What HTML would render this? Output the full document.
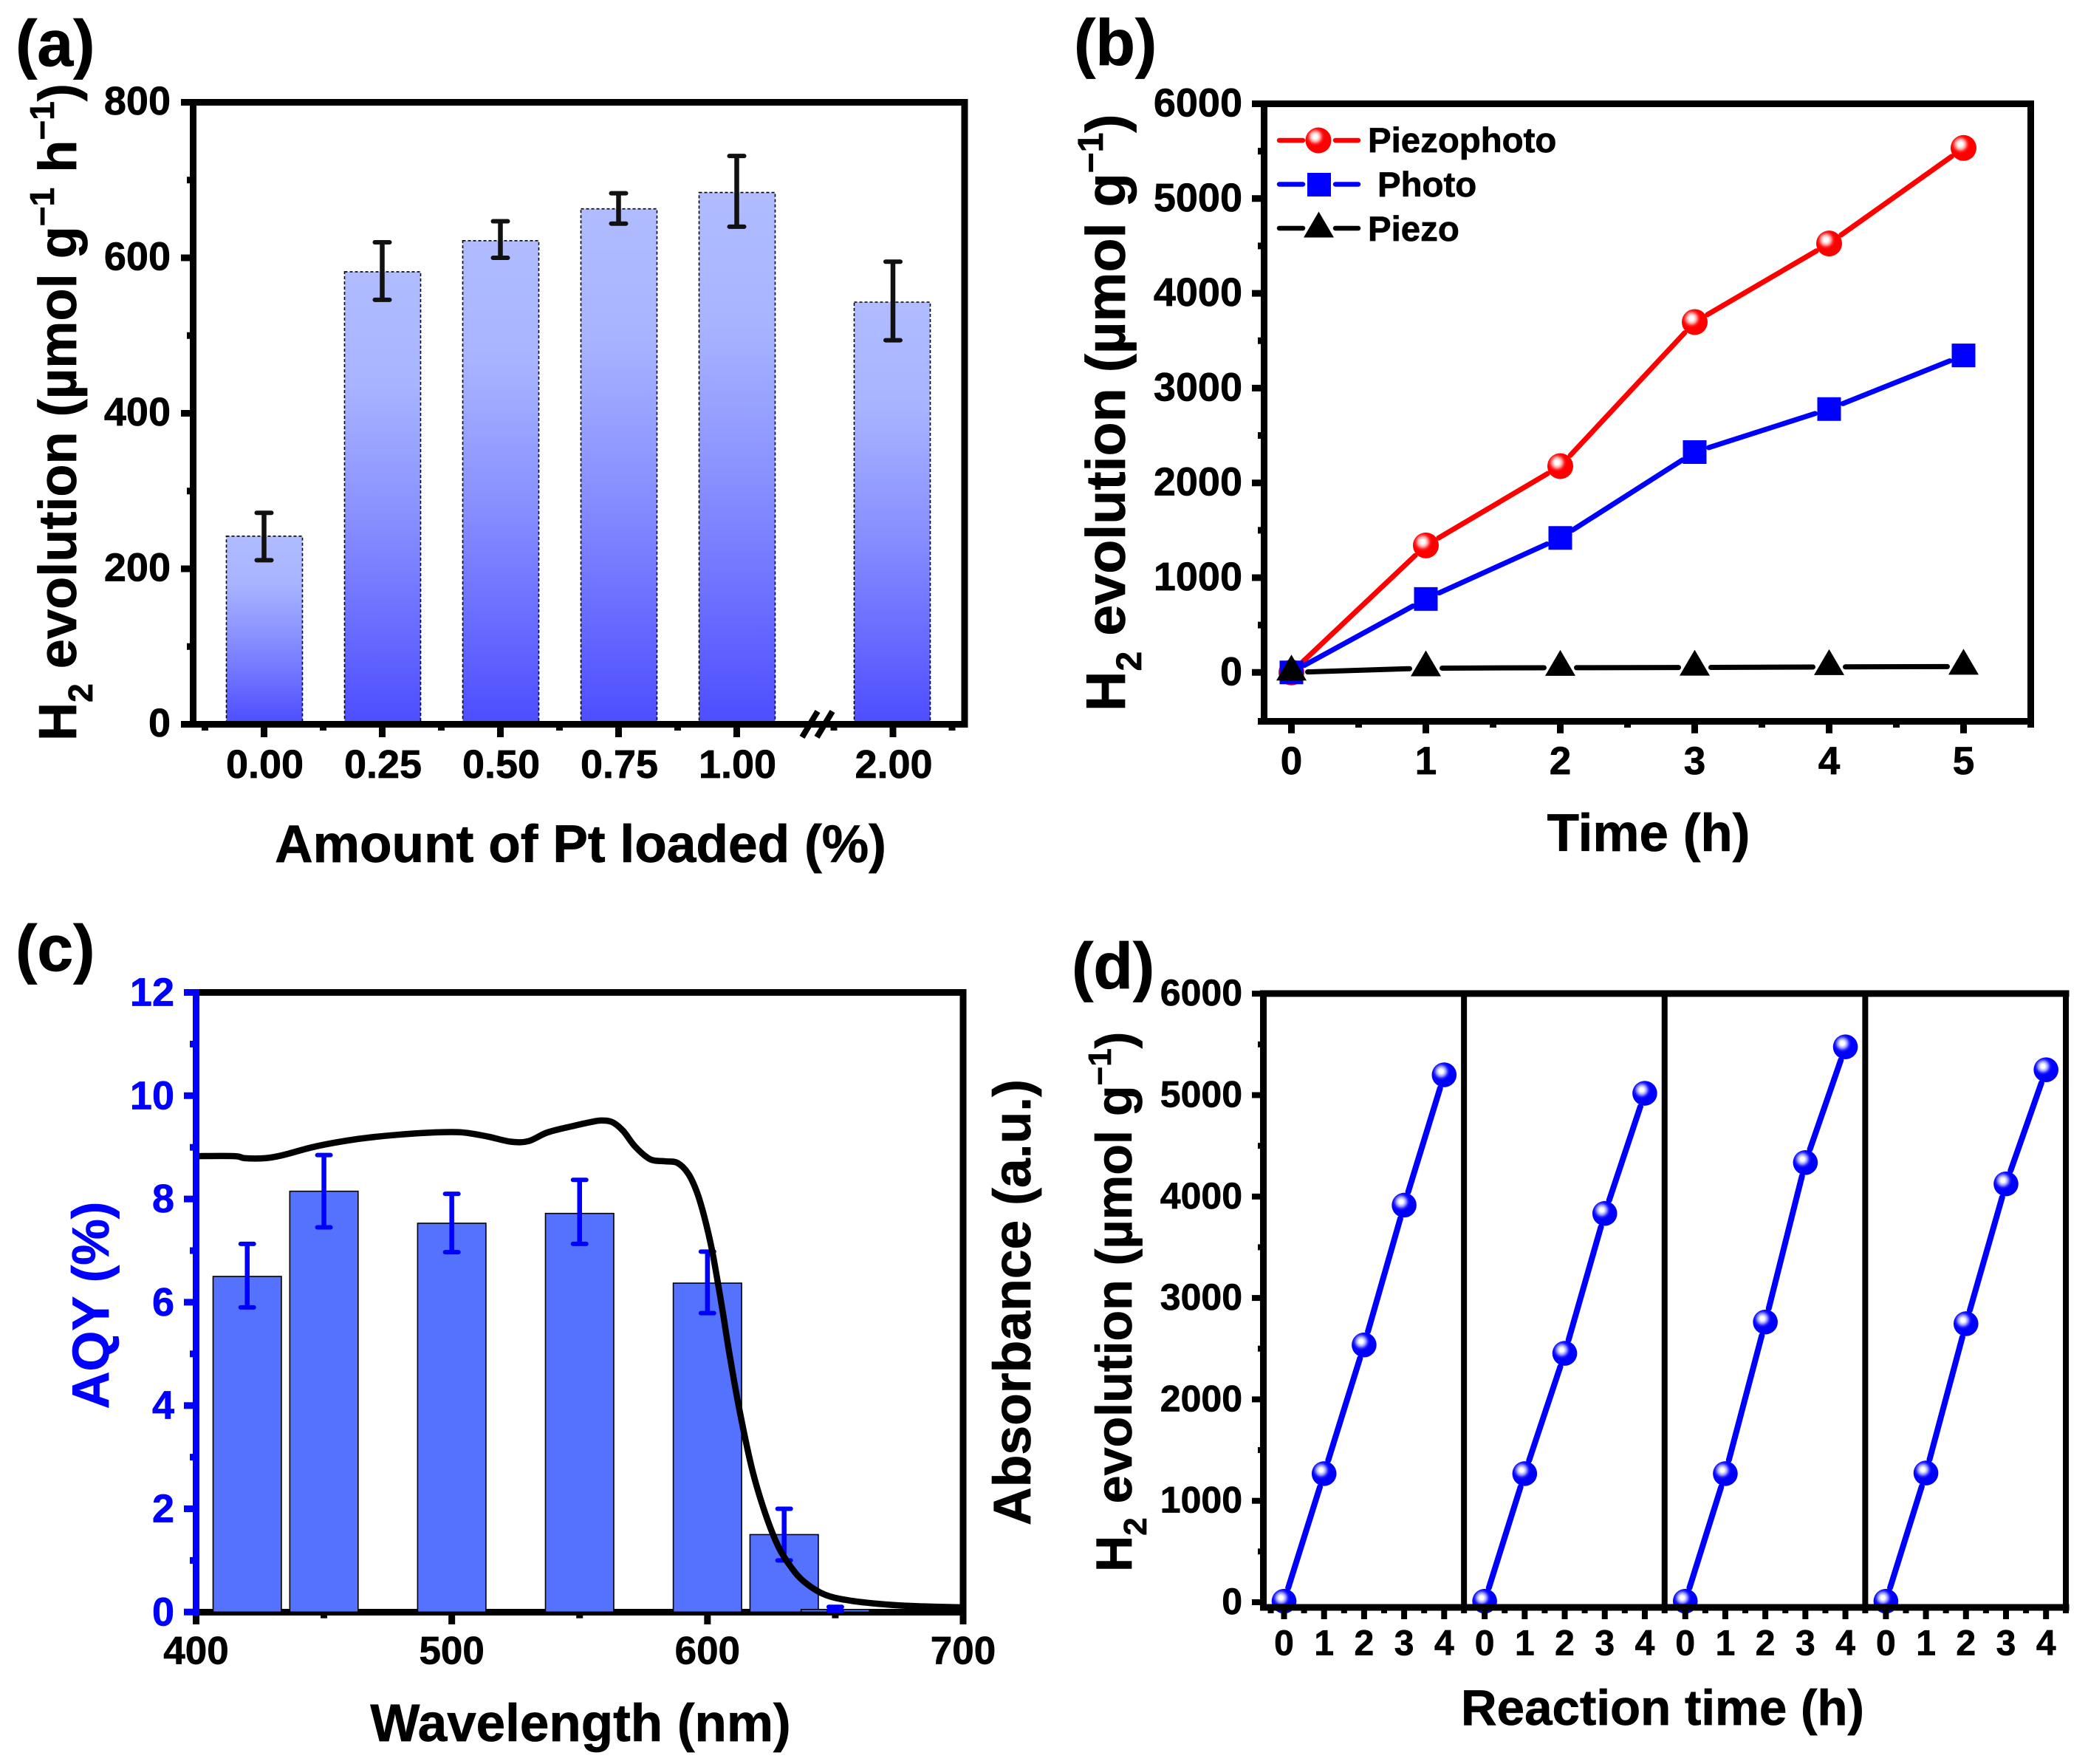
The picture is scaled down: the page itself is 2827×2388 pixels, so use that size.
<!DOCTYPE html>
<html lang="en">
<head>
<meta charset="utf-8">
<title>Hydrogen evolution figure</title>
<style>
html,body{margin:0;padding:0;background:#fff;}
svg{display:block;}
text{font-family:"Liberation Sans",Arial,sans-serif;font-weight:bold;fill:#000;stroke:#000;stroke-width:0.7px;}
</style>
</head>
<body>
<svg id="figure" xmlns="http://www.w3.org/2000/svg" width="2827" height="2388" viewBox="0 0 2827 2388">
<defs>
  <linearGradient id="barGrad" x1="0" y1="0" x2="0" y2="1">
    <stop offset="0" stop-color="#b0bcff"/>
    <stop offset="0.25" stop-color="#a8b4ff"/>
    <stop offset="0.55" stop-color="#878fff"/>
    <stop offset="1" stop-color="#4d4dff"/>
  </linearGradient>
  <radialGradient id="redBall" cx="0.38" cy="0.36" r="0.36">
    <stop offset="0" stop-color="#ffffff"/>
    <stop offset="0.22" stop-color="#ffffff"/>
    <stop offset="0.5" stop-color="#ffb0b0"/>
    <stop offset="0.8" stop-color="#ff2020"/>
    <stop offset="1" stop-color="#ff0000"/>
  </radialGradient>
  <radialGradient id="blueBall" cx="0.38" cy="0.36" r="0.36">
    <stop offset="0" stop-color="#ffffff"/>
    <stop offset="0.22" stop-color="#ffffff"/>
    <stop offset="0.5" stop-color="#a8a8ff"/>
    <stop offset="0.8" stop-color="#2020ff"/>
    <stop offset="1" stop-color="#0000ff"/>
  </radialGradient>
</defs>

<g id="panelA">
  <text x="21" y="89" font-size="88">(a)</text>
  <text transform="translate(103,1003) rotate(-90)" font-size="72.2">H<tspan dy="22" font-size="46">2</tspan><tspan dy="-22"> evolution (µmol g</tspan><tspan dy="-30" font-size="46">−1</tspan><tspan dy="30"> h</tspan><tspan dy="-30" font-size="46">−1</tspan><tspan dy="30">)</tspan></text>
  <text x="786" y="1167" font-size="71.3" text-anchor="middle">Amount of Pt loaded (%)</text>
</g>

<g id="panelB">
  <text x="1454" y="88" font-size="88">(b)</text>
  <text transform="translate(1523,963) rotate(-90)" font-size="75.5">H<tspan dy="22" font-size="48">2</tspan><tspan dy="-22"> evolution (µmol g</tspan><tspan dy="-30" font-size="48">−1</tspan><tspan dy="30">)</tspan></text>
  <text x="2232" y="1152" font-size="71" text-anchor="middle">Time (h)</text>
  <g>
    <text x="1852" y="206" font-size="47.4">Piezophoto</text>
    <text x="1865" y="266" font-size="47.4">Photo</text>
    <text x="1852" y="326" font-size="47.4">Piezo</text>
  </g>
</g>

<g id="panelC">
  <text x="21" y="1314" font-size="88">(c)</text>
  <text transform="translate(147,1767) rotate(-90)" font-size="70.5" text-anchor="middle" style="fill:#0000ff;stroke:#0000ff">AQY (%)</text>
  <text transform="translate(1395,1763) rotate(-90)" font-size="71.5" text-anchor="middle">Absorbance (a.u.)</text>
  <text x="786" y="2357" font-size="71" text-anchor="middle">Wavelength (nm)</text>
</g>

<g id="panelD">
  <text x="1451" y="1338" font-size="88">(d)</text>
  <text transform="translate(1532,2128) rotate(-90)" font-size="68.2">H<tspan dy="20" font-size="44">2</tspan><tspan dy="-20"> evolution (µmol g</tspan><tspan dy="-28" font-size="44">−1</tspan><tspan dy="28">)</tspan></text>
  <text x="2251" y="2335" font-size="67.3" text-anchor="middle">Reaction time (h)</text>
</g>
</svg>

<script>
/* ---------- panel (a) data ---------- */
const aLoadings = [0, 0.25, 0.5, 0.75, 1, 2];
const aLoadingLabels = ['0.00', '0.25', '0.50', '0.75', '1.00', '2.00'];
const aRates = [242, 582, 622, 663, 684, 543];
const aErrLow = [211, 546, 600, 644, 640, 494];
const aErrHigh = [272, 620, 647, 683, 731, 595];
const aYTicks = [0, 200, 400, 600, 800];
const aYMinorTicks = [100, 300, 500, 700];
const aXMinorTicks = [-0.125, 0.125, 0.375, 0.625, 0.875, 1.875, 2.125];

/* ---------- panel (b) data ---------- */
const bTimes = [0, 1, 2, 3, 4, 5];
const bPiezophoto = [0, 1340, 2177, 3697, 4526, 5534];
const bPhoto = [0, 775, 1419, 2325, 2779, 3345];
const bPiezo = [0, 45, 50, 52, 58, 62];
const bYTicks = [0, 1000, 2000, 3000, 4000, 5000, 6000];
const bYMinorTicks = [-500, 500, 1500, 2500, 3500, 4500, 5500];
const bXMinorTicks = [0.5, 1.5, 2.5, 3.5, 4.5, 5.5];

/* ---------- panel (c) data ---------- */
const cWavelengths = [420, 450, 500, 550, 600, 630, 650];
const cAqy = [6.5, 8.15, 7.53, 7.72, 6.37, 1.5, 0.05];
const cErrLow = [5.9, 7.45, 6.97, 7.13, 5.79, 1.0, 0.03];
const cErrHigh = [7.13, 8.85, 8.1, 8.37, 6.98, 2.0, 0.1];
const cCurveNm = [400, 415, 419, 427, 434, 447, 463, 478, 494, 504, 514, 523, 530, 537.5, 548, 554.5, 558.3, 562.7, 567, 571.8, 577.6, 583.4, 588.2, 592.5, 595.9, 598.8, 601.7, 604.1, 606.2, 608.4, 612.3, 617.4, 622.6, 627.8, 633, 638, 645.8, 656, 671.6, 684.5, 700];
const cCurveAbs = [8.83, 8.83, 8.79, 8.79, 8.85, 9.02, 9.16, 9.24, 9.29, 9.29, 9.21, 9.11, 9.12, 9.29, 9.42, 9.49, 9.52, 9.49, 9.32, 9.01, 8.77, 8.73, 8.7, 8.49, 8.13, 7.65, 7.03, 6.37, 5.75, 5.06, 3.97, 2.78, 1.91, 1.26, 0.85, 0.58, 0.34, 0.22, 0.14, 0.11, 0.09];
const cYTicks = [0, 2, 4, 6, 8, 10, 12];
const cYMinorTicks = [1, 3, 5, 7, 9, 11];
const cXTicks = [400, 500, 600, 700];
const cXMinorTicks = [450, 550, 650];

/* ---------- panel (d) data ---------- */
const dHours = [0, 1, 2, 3, 4];
const dCycle1 = [10, 1268, 2537, 3915, 5200];
const dCycle2 = [10, 1268, 2454, 3833, 5018];
const dCycle3 = [10, 1268, 2763, 4335, 5476];
const dCycle4 = [10, 1274, 2746, 4125, 5250];
const dYTicks = [0, 1000, 2000, 3000, 4000, 5000, 6000];
const dYMinorTicks = [500, 1500, 2500, 3500, 4500, 5500];

const NS = 'http://www.w3.org/2000/svg';

function mk(tag, attrs, parent, name) {
  const el = document.createElementNS(NS, tag);
  for (const k in attrs) el.setAttribute(k, attrs[k]);
  
  
  parent.appendChild(el);
  return el;
}
function seg(parent, x1, y1, x2, y2, stroke, width, name, cap) {
  return mk('line', {x1: x1, y1: y1, x2: x2, y2: y2, stroke: stroke, 'stroke-width': width, 'stroke-linecap': cap || 'butt'}, parent, name);
}
function label(parent, x, y, str, size, anchor, fill, name) {
  const t = mk('text', {x: x, y: y, 'font-size': size, 'text-anchor': anchor, style: 'fill:' + fill + ';stroke:' + fill}, parent, name);
  t.textContent = str;
  return t;
}
function brokenLine(parent, xs, ys, gap, stroke, width, name) {
  for (let i = 0; i < xs.length - 1; i++) {
    const dx = xs[i + 1] - xs[i], dy = ys[i + 1] - ys[i], d = Math.hypot(dx, dy);
    const ux = dx / d, uy = dy / d;
    seg(parent, xs[i] + ux * gap, ys[i] + uy * gap, xs[i + 1] - ux * gap, ys[i + 1] - uy * gap, stroke, width, name + '-segment-' + (i + 1), 'round');
  }
}
function triangle(parent, cx, cy, name) {
  return mk('polygon', {points: (cx - 20.5) + ',' + (cy + 11) + ' ' + cx + ',' + (cy - 24) + ' ' + (cx + 20.5) + ',' + (cy + 11), fill: '#000'}, parent, name);
}

/* ================= PANEL A ================= */
(function () {
  const root = document.getElementById('panelA');
  const L = 261.5, R = 1306, T = 138.5, B = 980.5;
  const y = v => B - (v / 800) * (B - T);
  const x = v => v <= 1 ? 357.5 + v * 640 : 1209 + (v - 2) * 640;

  const bars = mk('g', {}, root, 'panel-a-bars');
  aLoadings.forEach((v, i) => {
    mk('rect', {x: x(v) - (v <= 1 ? 51 : 52.5), y: y(aRates[i]), width: 103, height: B - y(aRates[i]), fill: 'url(#barGrad)', stroke: '#000', 'stroke-width': 1.6, 'stroke-dasharray': '4 3'}, bars, 'bar-' + aLoadingLabels[i]);
  });

  const axes = mk('g', {}, root, 'panel-a-axes');
  seg(axes, L - 4.5, T, R + 4.5, T, '#000', 9, 'panel-a-top-border');
  seg(axes, R, T, R, B + 4.5, '#000', 9, 'panel-a-right-border');
  seg(axes, L, T, L, B + 4.5, '#000', 9, 'panel-a-y-axis');
  seg(axes, L - 4.5, B, R + 4.5, B, '#000', 9, 'panel-a-x-axis');
  aYTicks.forEach(v => {
    seg(axes, 245, y(v), L, y(v), '#000', 9, 'y-tick-' + v);
    label(axes, 231, y(v) + 16.5, String(v), 54, 'end', '#000', 'y-tick-label-' + v);
  });
  aYMinorTicks.forEach(v => {
    seg(axes, 253, y(v), L, y(v), '#000', 9, 'y-minor-tick-' + v);
  });
  aLoadings.forEach((v, i) => {
    seg(axes, x(v), B, x(v), 998, '#000', 9, 'x-tick-' + aLoadingLabels[i]);
    label(axes, x(v) + 1, 1053, aLoadingLabels[i], 54, 'middle', '#000', 'x-tick-label-' + aLoadingLabels[i]);
  });
  aXMinorTicks.forEach(v => {
    seg(axes, x(v), B, x(v), 989, '#000', 9, 'x-minor-tick');
  });
  seg(axes, 1107, 963, 1086, 998, '#000', 8, 'axis-break-mark-left');
  seg(axes, 1127, 963, 1106, 998, '#000', 8, 'axis-break-mark-right');

  const errs = mk('g', {}, root, 'panel-a-error-bars');
  aLoadings.forEach((v, i) => {
    const n = 'error-bar-' + aLoadingLabels[i];
    seg(errs, x(v), y(aErrLow[i]), x(v), y(aErrHigh[i]), '#111', 6.5, n + '-stem');
    seg(errs, x(v) - 10, y(aErrHigh[i]), x(v) + 10, y(aErrHigh[i]), '#111', 6, n + '-cap-top', 'round');
    seg(errs, x(v) - 10, y(aErrLow[i]), x(v) + 10, y(aErrLow[i]), '#111', 6, n + '-cap-bottom', 'round');
  });
})();

/* ================= PANEL B ================= */
(function () {
  const root = document.getElementById('panelB');
  const L = 1711.5, R = 2749.5, T = 140.5, B = 976.5;
  const y = v => 910.3 - v * 0.1283;
  const x = v => 1748.5 + v * 182;

  const axes = mk('g', {}, root, 'panel-b-axes');
  seg(axes, L - 4.5, T, R + 4.5, T, '#000', 9, 'panel-b-top-border');
  seg(axes, R, T, R, B + 4.5, '#000', 9, 'panel-b-right-border');
  seg(axes, L, T, L, B + 4.5, '#000', 9, 'panel-b-y-axis');
  seg(axes, L - 4.5, B, R + 4.5, B, '#000', 9, 'panel-b-x-axis');
  bYTicks.forEach(v => {
    seg(axes, 1695, y(v), L, y(v), '#000', 9, 'y-tick-' + v);
    label(axes, 1682, y(v) + 17, String(v), 54, 'end', '#000', 'y-tick-label-' + v);
  });
  bYMinorTicks.forEach(v => {
    seg(axes, 1703, v === -500 ? B : y(v), L, v === -500 ? B : y(v), '#000', 9, 'y-minor-tick-' + v);
  });
  bTimes.forEach(v => {
    seg(axes, x(v), B, x(v), 992.7, '#000', 9, 'x-tick-' + v);
    label(axes, x(v), 1048, String(v), 53, 'middle', '#000', 'x-tick-label-' + v);
  });
  bXMinorTicks.forEach(v => {
    seg(axes, x(v), B, x(v), 985, '#000', 9, 'x-minor-tick');
  });

  const xs = bTimes.map(x);
  const red = mk('g', {}, root, 'series-piezophoto');
  brokenLine(red, xs, bPiezophoto.map(y), 20, '#ff0000', 7, 'piezophoto-line');
  bPiezophoto.forEach((v, i) => {
    mk('circle', {cx: x(bTimes[i]), cy: y(v), r: 17.5, fill: 'url(#redBall)'}, red, 'piezophoto-point-' + bTimes[i]);
  });
  const blue = mk('g', {}, root, 'series-photo');
  brokenLine(blue, xs, bPhoto.map(y), 20, '#0000ff', 7, 'photo-line');
  bPhoto.forEach((v, i) => {
    mk('rect', {x: x(bTimes[i]) - 16, y: y(v) - 16, width: 32, height: 32, fill: '#0000ff'}, blue, 'photo-point-' + bTimes[i]);
  });
  const black = mk('g', {}, root, 'series-piezo');
  brokenLine(black, xs, bPiezo.map(y), 22, '#000', 7, 'piezo-line');
  bPiezo.forEach((v, i) => {
    triangle(black, x(bTimes[i]), y(v), 'piezo-point-' + bTimes[i]);
  });

  const leg = mk('g', {}, root, 'panel-b-legend-keys');
  seg(leg, 1732, 190, 1764, 190, '#ff0000', 6.5, 'legend-line-piezophoto-left', 'round');
  seg(leg, 1808, 190, 1839, 190, '#ff0000', 6.5, 'legend-line-piezophoto-right', 'round');
  mk('circle', {cx: 1785, cy: 190, r: 17.5, fill: 'url(#redBall)'}, leg, 'legend-marker-piezophoto');
  seg(leg, 1732, 249.5, 1764, 249.5, '#0000ff', 6.5, 'legend-line-photo-left', 'round');
  seg(leg, 1808, 249.5, 1839, 249.5, '#0000ff', 6.5, 'legend-line-photo-right', 'round');
  mk('rect', {x: 1770, y: 234, width: 32, height: 32, fill: '#0000ff'}, leg, 'legend-marker-photo');
  seg(leg, 1732, 309, 1764, 309, '#000', 6.5, 'legend-line-piezo-left', 'round');
  seg(leg, 1808, 309, 1839, 309, '#000', 6.5, 'legend-line-piezo-right', 'round');
  triangle(leg, 1785.5, 310.5, 'legend-marker-piezo');
})();

/* ================= PANEL C ================= */
(function () {
  const root = document.getElementById('panelC');
  const L = 265.5, R = 1304, T = 1343.5, B = 2182.5;
  const y = v => 2182.3 - v * 69.9;
  const x = v => L + (v - 400) * (R - L) / 300;

  const axes = mk('g', {}, root, 'panel-c-axes');
  seg(axes, L - 4.5, T, R + 4.5, T, '#000', 9, 'panel-c-top-border');
  seg(axes, R, T, R, B + 4.5, '#000', 9, 'panel-c-right-border');
  seg(axes, L, B, R + 4.5, B, '#000', 9, 'panel-c-x-axis');
  cXTicks.forEach(v => {
    seg(axes, x(v), B, x(v), 2199, '#000', 9, 'x-tick-' + v);
    label(axes, x(v), 2252.5, String(v), 53, 'middle', '#000', 'x-tick-label-' + v);
  });
  cXMinorTicks.forEach(v => {
    seg(axes, x(v), B, x(v), 2190.7, '#000', 9, 'x-minor-tick-' + v);
  });

  const bars = mk('g', {}, root, 'panel-c-bars');
  cWavelengths.forEach((w, i) => {
    mk('rect', {x: x(w) - 46.25, y: y(cAqy[i]), width: 92.5, height: y(0) - y(cAqy[i]), fill: '#5572ff', stroke: '#000', 'stroke-width': 1.6}, bars, 'aqy-bar-' + w);
  });

  const errs = mk('g', {}, root, 'panel-c-error-bars');
  cWavelengths.forEach((w, i) => {
    const n = 'aqy-error-bar-' + w;
    seg(errs, x(w), y(cErrLow[i]), x(w), y(cErrHigh[i]), '#0000ff', 6.5, n + '-stem');
    seg(errs, x(w) - 9, y(cErrHigh[i]), x(w) + 9, y(cErrHigh[i]), '#0000ff', 6, n + '-cap-top', 'round');
    seg(errs, x(w) - 9, y(cErrLow[i]), x(w) + 9, y(cErrLow[i]), '#0000ff', 6, n + '-cap-bottom', 'round');
  });

  const px = cCurveNm.map(x), py = cCurveAbs.map(y);
  let d = 'M' + px[0] + ' ' + py[0];
  for (let i = 0; i < px.length - 1; i++) {
    const p0 = Math.max(i - 1, 0), p3 = Math.min(i + 2, px.length - 1);
    const c1x = px[i] + (px[i + 1] - px[p0]) / 6, c1y = py[i] + (py[i + 1] - py[p0]) / 6;
    const c2x = px[i + 1] - (px[p3] - px[i]) / 6, c2y = py[i + 1] - (py[p3] - py[i]) / 6;
    d += ' C' + c1x + ' ' + c1y + ' ' + c2x + ' ' + c2y + ' ' + px[i + 1] + ' ' + py[i + 1];
  }
  mk('path', {d: d, fill: 'none', stroke: '#000', 'stroke-width': 8.5, 'stroke-linejoin': 'round'}, root, 'absorbance-curve');

  const left = mk('g', {}, root, 'panel-c-left-axis');
  seg(left, L, T - 4.5, L, B + 4.5, '#0000ff', 9, 'panel-c-y-axis');
  cYTicks.forEach(v => {
    seg(left, 249, y(v), L, y(v), '#0000ff', 9, 'y-tick-' + v);
    label(left, 236, y(v) + 18, String(v), 54, 'end', '#0000ff', 'y-tick-label-' + v);
  });
  cYMinorTicks.forEach(v => {
    seg(left, 257, y(v), L, y(v), '#0000ff', 9, 'y-minor-tick-' + v);
  });
})();

/* ================= PANEL D ================= */
(function () {
  const root = document.getElementById('panelD');
  const L = 1710.5, R = 2797, T = 1345, B = 2176;
  const panelW = (R - L) / 4;
  const y = v => 2169 - v * 0.1373;
  const x = (p, v) => L + p * panelW + 28 + v * 54.2;
  const cycles = [dCycle1, dCycle2, dCycle3, dCycle4];

  cycles.forEach((values, p) => {
    const g = mk('g', {}, root, 'cycle-' + (p + 1));
    brokenLine(g, dHours.map(h => x(p, h)), values.map(y), 19, '#0000ff', 8, 'cycle-' + (p + 1) + '-line');
    values.forEach((v, i) => {
      mk('circle', {cx: x(p, dHours[i]), cy: y(v), r: 16.8, fill: 'url(#blueBall)'}, g, 'cycle-' + (p + 1) + '-point-' + dHours[i]);
    });
  });

  const axes = mk('g', {}, root, 'panel-d-axes');
  seg(axes, L - 4.5, T, R + 4.5, T, '#000', 9, 'panel-d-top-border');
  seg(axes, L, T, L, B + 4.5, '#000', 9, 'panel-d-y-axis');
  seg(axes, L - 4.5, B, R + 4.5, B, '#000', 9, 'panel-d-x-axis');
  for (let p = 1; p <= 4; p++) {
    const dx = L + p * panelW;
    seg(axes, dx, T, dx, 2184, '#000', 8, 'panel-d-divider-' + p);
  }
  dYTicks.forEach(v => {
    seg(axes, 1695, y(v), L, y(v), '#000', 8, 'y-tick-' + v);
    label(axes, 1682, y(v) + 16, String(v), 50, 'end', '#000', 'y-tick-label-' + v);
  });
  dYMinorTicks.forEach(v => {
    seg(axes, 1703, y(v), L, y(v), '#000', 8, 'y-minor-tick-' + v);
  });
  for (let p = 0; p < 4; p++) {
    dHours.forEach(h => {
      seg(axes, x(p, h), B, x(p, h), 2192, '#000', 8, 'x-tick-cycle-' + (p + 1) + '-' + h);
      label(axes, x(p, h), 2240.7, String(h), 48, 'middle', '#000', 'x-tick-label-cycle-' + (p + 1) + '-' + h);
      if (h < 4) {
        seg(axes, x(p, h + 0.5), B, x(p, h + 0.5), 2184, '#000', 8, 'x-minor-tick-cycle-' + (p + 1));
      }
    });
  }
  seg(axes, L + 10, B, L + 10, 2184, '#000', 8, 'x-minor-tick-start');
})();
</script>
</body>
</html>
